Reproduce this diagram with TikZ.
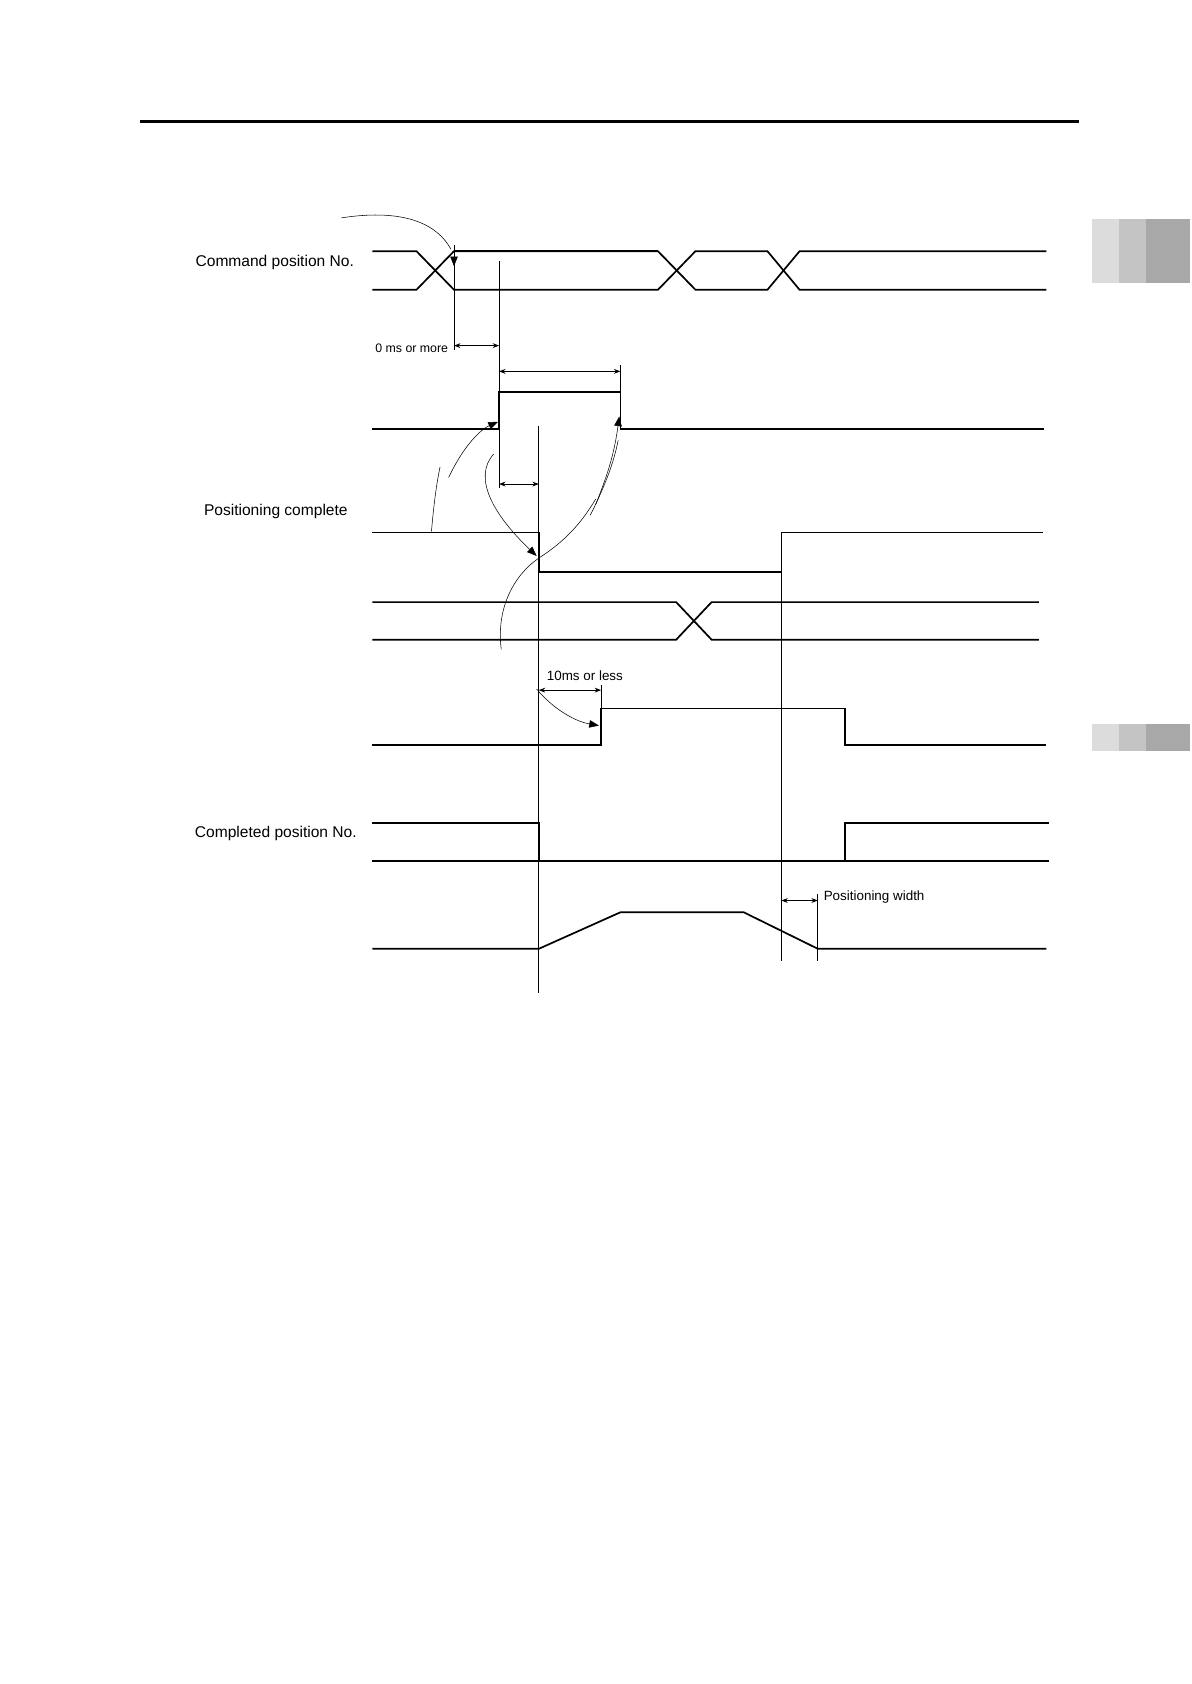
\documentclass[tikz,border=0pt]{standalone}
\usepackage{fontspec}
\setmainfont{Liberation Sans}
\usetikzlibrary{arrows.meta, positioning, calc}
\definecolor{tabA}{HTML}{DCDCDC}
\definecolor{tabB}{HTML}{C4C4C4}
\definecolor{tabC}{HTML}{A8A8A8}

\begin{document}
\begin{tikzpicture}[
  x=1pt, y=-1pt,
  wave/.style={line width=1.6pt},
  thin/.style={line width=0.7pt},
  dim/.style={line width=0.7pt, {Stealth[length=6pt]}-{Stealth[length=6pt]}},
  lead/.style={line width=0.5pt},
  leadarrow/.style={line width=0.5pt, -{Triangle[length=9pt,width=7pt]}},
  sig/.style={font=\fontsize{14.5}{16}\selectfont, anchor=center},
  note/.style={font=\fontsize{12.5}{14}\selectfont, anchor=center},
]
  \useasboundingbox (0,0) rectangle (1110,1569);

  % Page rule and side tabs
  \draw[line width=3pt] (130,113) -- (1005,113);
  \fill[tabA] (1017,204) rectangle (1043,264);
  \fill[tabB] (1043,204) rectangle (1068,264);
  \fill[tabC] (1068,204) rectangle (1109,264);
  \fill[tabA] (1017,675) rectangle (1043,700);
  \fill[tabB] (1043,675) rectangle (1068,700);
  \fill[tabC] (1068,675) rectangle (1109,700);

  % Signal names
  \node[sig] (cmdlbl) at (256,245) {Command position No.};
  \node[sig] (pcmplbl) at (257,477) {Positioning complete};
  \node[sig] (cmplbl) at (257,777) {Completed position No.};

  % Command position No. (bus)
  \draw[wave] (347,234) -- (388,234) -- (423,270) -- (613,270) -- (648,234)
    -- (715,234) -- (745,270) -- (975,270);
  \draw[wave] (347,270) -- (388,270) -- (423,234) -- (613,234) -- (648,270)
    -- (715,270) -- (745,234) -- (975,234);
  \draw[line width=2.2pt] (423,234) -- (613,234);

  % Start pulse
  \draw[wave] (347,400) -- (465,400) -- (465,365) -- (578,365) -- (578,400) -- (973,400);

  % Positioning complete
  \draw[wave] (347,496) -- (502,496) -- (502,533) -- (728,533) -- (728,496) -- (972,496);

  % Second bus
  \draw[wave] (347,561) -- (630,561) -- (663,596) -- (968,596);
  \draw[wave] (347,596) -- (630,596) -- (663,561) -- (968,561);

  % Output pulse
  \draw[wave] (347,694) -- (560,694) -- (560,660) -- (787,660) -- (787,694) -- (975,694);

  % Completed position No.
  \draw[wave] (347,767) -- (502,767) -- (502,802);
  \draw[wave] (977,767) -- (787,767) -- (787,802);
  \draw[wave] (347,802) -- (977,802);

  % Motion profile
  \draw[wave] (347,884) -- (502,884) -- (578,850) -- (693,850) -- (762,884) -- (975,884);

  % Timing reference lines
  \coordinate (tA) at (423,240);
  \coordinate (tB) at (465,243);
  \coordinate (tC) at (502,397);
  \coordinate (tD) at (728,533);
  \coordinate (tE) at (762,833);
  \draw[thin] (tA) -- (423,326);
  \draw[thin] (tB) -- (465,455);
  \draw[thin] (tC) -- (502,925);
  \draw[thin] (tD) -- (728,895);
  \draw[thin] (tE) -- (762,895);
  \draw[thin] (578,340) -- (578,365);
  \draw[thin] (560,638) -- (560,660);

  % Dimensions
  \draw[dim] (423,322) -- (465,322);
  \node[note, font=\fontsize{11.5}{13}\selectfont, left=2pt of {(423,324)}] (zero) {0 ms or more};
  \draw[dim] (465,346) -- (578,346);
  \draw[dim] (465,451) -- (502,451);
  \draw[dim] (502,643) -- (560,643);
  \node[note, anchor=south west] (tenms) at (506,638) {10ms or less};
  \draw[dim] (728,839) -- (762,839);
  \node[note, anchor=west] (pwidth) at (764,836) {Positioning width};

  % Cause arrows
  \draw[lead] (318,203) .. controls (370,195) and (405,205) .. (420,232);
  \draw[leadarrow] (423,228) -- (423,248);
  \draw[lead] (402,495) .. controls (405,460) and (408,445) .. (410,435);
  \draw[leadarrow] (418,445) .. controls (432,415) and (448,400) .. (464,393);
  \draw[leadarrow] (460,423) .. controls (440,445) and (460,480) .. (500,518);
  \draw[lead] (550,480) .. controls (565,450) and (572,430) .. (576,410);
  \draw[leadarrow] (555,470) .. controls (565,445) and (572,425) .. (577,388);
  \draw[lead] (502,520) .. controls (525,505) and (540,490) .. (555,465);
  \draw[lead] (502,520) .. controls (480,535) and (462,565) .. (467,605);
  \draw[leadarrow] (500,642) .. controls (515,660) and (535,672) .. (558,676);
\end{tikzpicture}
\end{document}
